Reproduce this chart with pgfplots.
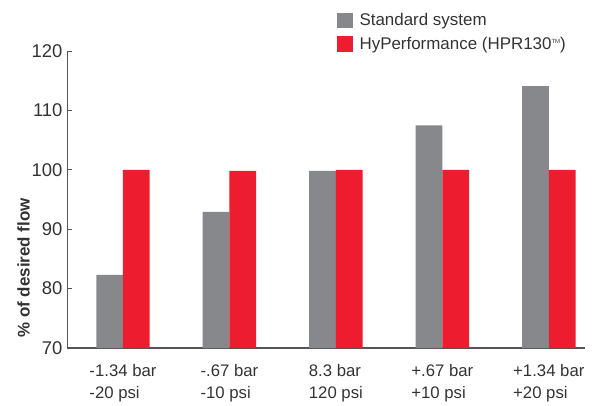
\documentclass[border=0pt]{standalone}
\usepackage{fontspec}
\setmainfont{Liberation Sans}
\usepackage{pgfplots}
\pgfplotsset{compat=1.18}
\definecolor{stdgray}{HTML}{87888C}
\definecolor{hyred}{HTML}{ED1C2E}
\definecolor{txt}{HTML}{333333}
\definecolor{axl}{HTML}{555555}
\begin{document}
\begin{tikzpicture}
\begin{axis}[
    name=ax,
    scale only axis,
    width=518bp, height=297bp,
    ybar=0pt, bar width=26.7bp,
    xmin=-0.526, xmax=4.34,
    ymin=70, ymax=120,
    ytick={70,80,90,100,110,120},
    xtick={0,1,2,3,4},
    xticklabels={{-1.34 bar\\-20 psi},{-.67 bar\\-10 psi},{8.3 bar\\120 psi},{+.67 bar\\+10 psi},{+1.34 bar\\+20 psi}},
    x tick label style={align=left, font=\fontsize{16.8}{22}\selectfont, text=txt, yshift=-13bp},
    y tick label style={font=\fontsize{18.5}{20}\selectfont, text=txt, xshift=-1bp},
    /pgf/number format/assume math mode=true,
    axis x line*=bottom, axis y line*=left,
    x axis line style={draw=axl, line width=1.3bp, -},
    y axis line style={draw=axl, line width=0.8bp, -},
    xtick style={draw=none},
    ytick style={draw=axl, line width=0.8bp},
    major tick length=5bp, tick align=inside,
    ylabel={\bfseries \% of desired flow},
    ylabel style={font=\fontsize{17}{19}\selectfont, text=txt, at={(ticklabel cs:0.27)}, yshift=-5bp},
    legend style={at={(rel axis cs:0.521,1.133)}, anchor=north west, draw=none, fill=none,
        font=\fontsize{17}{19}\selectfont, text=txt, inner sep=0pt,
        row sep=6bp, cells={anchor=west}},
    legend image code/.code={\fill[#1] (0bp,-7.5bp) rectangle (15.5bp,8bp);},
    clip=false,
]
\addplot[fill=stdgray, draw=none] coordinates {(0,82.3) (1,92.9) (2,99.8) (3,107.5) (4,114.1)};
\addplot[fill=hyred, draw=none] coordinates {(0,100) (1,99.8) (2,100) (3,100) (4,100)};
\legend{\hspace{5bp}Standard system, \hspace{5bp}HyPerformance (HPR130\raisebox{0.75ex}{\fontsize{6}{6}\selectfont TM})}
\end{axis}
\path ([xshift=-67bp,yshift=-57bp]ax.south west) rectangle ([xshift=28bp,yshift=51bp]ax.north east);
\end{tikzpicture}
\end{document}
